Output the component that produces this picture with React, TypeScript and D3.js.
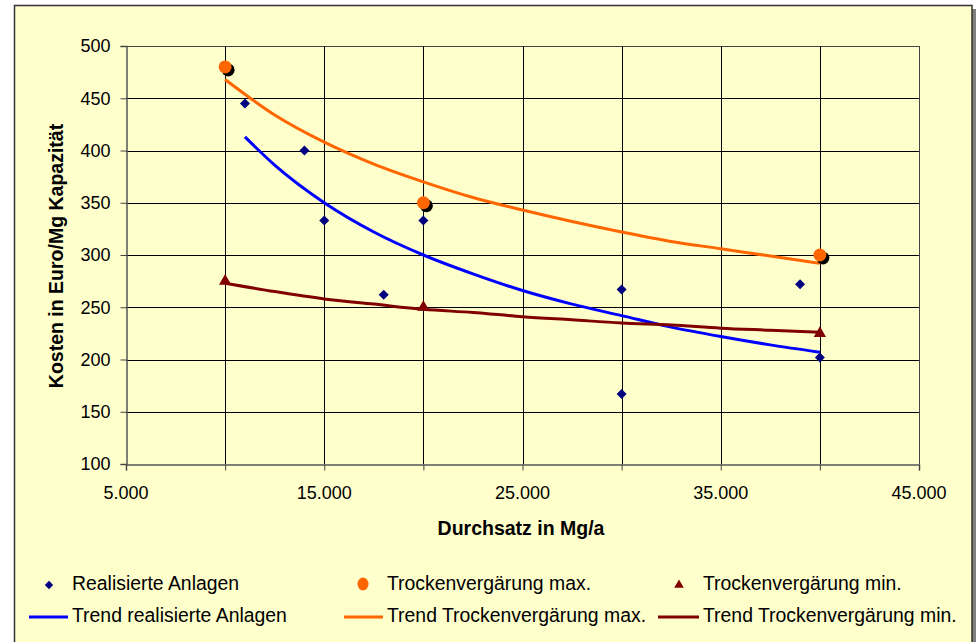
import React, { useRef, useEffect } from 'react';
import * as d3 from 'd3';

// Realisierte Anlagen (Durchsatz Mg/a, Kosten Euro/Mg)
const realX = [11000, 14000, 15000, 18000, 20000, 30000, 30000, 39000, 40000];
const realY = [445, 400, 333, 262, 333, 267, 167, 272, 202];

const maxX = [10000, 20000, 40000];
const maxY = [480, 350, 300];

const minX = [10000, 20000, 40000];
const minY = [275, 250, 225];

// trend lines
const trendRealX = [11000, 12500, 15000, 17500, 20000, 22500, 25000, 27500, 30000, 32500, 35000, 37500, 40000];
const trendRealY = [413, 386, 350, 322, 300, 282, 266, 253, 242, 231, 222, 214, 207];
const trendX = [10000, 12500, 15000, 17500, 20000, 22500, 25000, 27500, 30000, 32500, 35000, 37500, 40000];
const trendMaxY = [468, 434, 408, 387, 370, 355, 343, 332, 322, 313, 306, 299, 292];
const trendMinY = [273, 265, 258, 253, 248, 245, 241, 238, 235, 233, 230, 228, 226];

const xTicks = [5000, 15000, 25000, 35000, 45000];
const xGrid = [10000, 15000, 20000, 25000, 30000, 35000, 40000, 45000];
const yTicks = [100, 150, 200, 250, 300, 350, 400, 450, 500];

const W = 977;
const H = 642;
const FONT = '"Liberation Sans", Arial, sans-serif';

const App: React.FC = () => {
  const svgRef = useRef<SVGSVGElement>(null);

  useEffect(() => {
    if (!svgRef.current) return;
    const svg = d3.select(svgRef.current);
    svg.selectAll('*').remove();

    const x = d3.scaleLinear().domain([5000, 45000]).range([126, 919]);
    const y = d3.scaleLinear().domain([100, 500]).range([464, 46]);

    // frame
    svg.append('rect').attr('width', W).attr('height', H).attr('fill', '#ffffff');
    svg.append('rect').attr('x', 18).attr('y', 9).attr('width', 958).attr('height', 640).attr('fill', '#808080');
    svg.append('rect').attr('x', 14.5).attr('y', 5.5).attr('width', 957.5).attr('height', 640)
      .attr('fill', '#ffffcc').attr('stroke', '#333333').attr('stroke-width', 1.5);

    // grid
    const g = svg.append('g');
    g.selectAll('.hg').data(yTicks.slice(1)).enter().append('line')
      .attr('x1', x(5000)).attr('x2', x(45000))
      .attr('y1', (d) => Math.round(y(d)) + 0.5).attr('y2', (d) => Math.round(y(d)) + 0.5)
      .attr('stroke', (d) => (d === 500 ? '#444' : '#000')).attr('stroke-width', 1);
    g.selectAll('.vg').data(xGrid).enter().append('line')
      .attr('y1', y(500)).attr('y2', y(100))
      .attr('x1', (d) => Math.round(x(d)) + 0.5).attr('x2', (d) => Math.round(x(d)) + 0.5)
      .attr('stroke', (d) => (d === 45000 ? '#444' : '#000')).attr('stroke-width', 1);

    // axes
    const yAxis = d3.axisLeft(y).tickValues(yTicks).tickSize(6).tickFormat((d) => String(d));
    const ya = svg.append('g').attr('transform', `translate(${Math.round(x(5000)) + 0.5},0)`).call(yAxis);
    const xAxis = d3.axisBottom(x).tickValues(xGrid.concat([5000])).tickSize(6).tickFormat(() => '');
    const xa = svg.append('g').attr('transform', `translate(0,${Math.round(y(100)) + 0.5})`).call(xAxis);
    [ya, xa].forEach((a) => {
      a.select('.domain').attr('stroke', '#555').attr('stroke-width', 1.5);
      a.selectAll('.tick line').attr('stroke', '#444');
    });
    ya.selectAll('.tick text').attr('font-family', FONT).attr('font-size', 18).attr('fill', '#000').attr('x', -16);

    svg.append('g').selectAll('text').data(xTicks).enter().append('text')
      .attr('x', (d) => x(d)).attr('y', 499)
      .attr('text-anchor', 'middle').attr('font-family', FONT).attr('font-size', 18)
      .text((d) => d3.format(',')(d).replace(',', '.'));

    // titles
    svg.append('text').attr('x', 521).attr('y', 535).attr('text-anchor', 'middle')
      .attr('font-family', FONT).attr('font-size', 19.5).attr('font-weight', 'bold').text('Durchsatz in Mg/a');
    svg.append('text').attr('transform', `translate(63,256) rotate(-90)`).attr('text-anchor', 'middle')
      .attr('font-family', FONT).attr('font-size', 19.5).attr('font-weight', 'bold').text('Kosten in Euro/Mg Kapazität');

    // trend lines
    const line = d3.line<[number, number]>().x((d) => x(d[0])).y((d) => y(d[1])).curve(d3.curveMonotoneX);
    const trends: [number[], number[], string][] = [
      [trendRealX, trendRealY, '#0000ff'],
      [trendX, trendMaxY, '#ff6600'],
      [trendX, trendMinY, '#800000'],
    ];
    trends.forEach(([xs, ys, c]) => {
      svg.append('path')
        .datum(xs.map((v, i) => [v, ys[i]] as [number, number]))
        .attr('d', line).attr('fill', 'none').attr('stroke', c).attr('stroke-width', 3);
    });

    // markers
    const diamond = d3.symbol().type(d3.symbolDiamond2).size(64);
    svg.append('g').selectAll('path').data(realX).enter().append('path')
      .attr('d', diamond)
      .attr('transform', (d, i) => `translate(${x(d)},${y(realY[i])})`)
      .attr('fill', '#000080');

    const mx = svg.append('g');
    mx.selectAll('.sh').data(maxX).enter().append('circle')
      .attr('cx', (d) => x(d) + 3).attr('cy', (d, i) => y(maxY[i]) + 3).attr('r', 6.5).attr('fill', '#000');
    mx.selectAll('.pt').data(maxX).enter().append('circle')
      .attr('cx', (d) => x(d)).attr('cy', (d, i) => y(maxY[i])).attr('r', 6.5).attr('fill', '#ff6600');

    const tri = d3.symbol().type(d3.symbolTriangle).size(65);
    svg.append('g').selectAll('path').data(minX).enter().append('path')
      .attr('d', tri)
      .attr('transform', (d, i) => `translate(${x(d)},${y(minY[i])})`)
      .attr('fill', '#800000');

    // legend
    const lg = svg.append('g').attr('font-family', FONT).attr('font-size', 19.4);
    lg.append('path').attr('d', d3.symbol().type(d3.symbolDiamond2).size(45))
      .attr('transform', 'translate(49,585)').attr('fill', '#000080');
    lg.append('text').attr('x', 72).attr('y', 590).text('Realisierte Anlagen');
    lg.append('ellipse').attr('cx', 363).attr('cy', 584).attr('rx', 5.5).attr('ry', 6.5).attr('fill', '#ff6600');
    lg.append('text').attr('x', 387).attr('y', 590).text('Trockenvergärung max.');
    lg.append('path').attr('d', d3.symbol().type(d3.symbolTriangle).size(40))
      .attr('transform', 'translate(679,585)').attr('fill', '#800000');
    lg.append('text').attr('x', 703).attr('y', 590).text('Trockenvergärung min.');

    const row2: [number, number, string, string][] = [
      [29, 72, '#0000ff', 'Trend realisierte Anlagen'],
      [344, 387, '#ff6600', 'Trend Trockenvergärung max.'],
      [658, 703, '#800000', 'Trend Trockenvergärung min.'],
    ];
    row2.forEach(([lx, tx, c, t]) => {
      lg.append('line').attr('x1', lx).attr('x2', tx - 4).attr('y1', 617).attr('y2', 617)
        .attr('stroke', c).attr('stroke-width', 3);
      lg.append('text').attr('x', tx).attr('y', 622).text(t);
    });
  }, []);

  return (
    <div style={{ position: 'absolute', left: 0, top: 0 }}>
      <svg ref={svgRef} width={W} height={H} style={{ display: 'block' }} />
    </div>
  );
};

export default App;
